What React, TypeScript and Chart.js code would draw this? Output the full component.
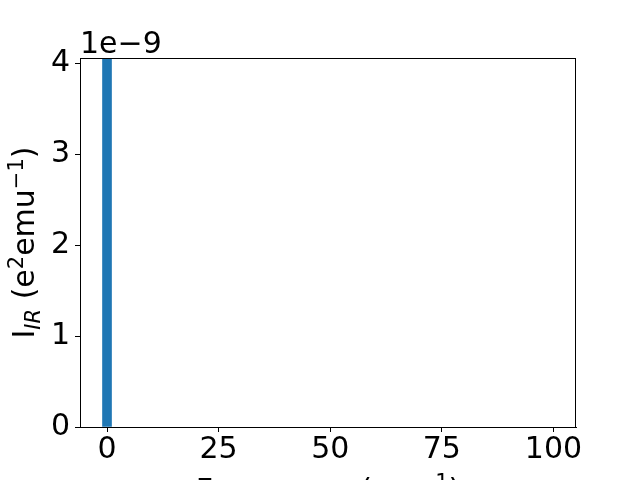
import React, { useEffect, useRef } from 'react';
import { Chart, registerables } from 'chart.js';

Chart.register(...registerables);

// ---- data ----
const frequencies = [0];
const intensities = [4.05]; // in units of 1e-9
const xTicks = [0, 25, 50, 75, 100];
const yTicks = [0, 1, 2, 3, 4];
const xRange = [-6.05, 105.05];
const yRange = [0, 4.055];
const offsetLabel = '1e\u22129';

type Seg = { t: string; k?: 'sup' | 'sub'; i?: boolean };
const yTitle: Seg[] = [
  { t: 'I' },
  { t: 'IR', k: 'sub', i: true },
  { t: ' (e' },
  { t: '2', k: 'sup' },
  { t: 'emu' },
  { t: '\u22121', k: 'sup' },
  { t: ')' },
];
const xTitle: Seg[] = [
  { t: 'Frequency (cm' },
  { t: '\u22121', k: 'sup' },
  { t: ')' },
];

const FAMILY = '"DejaVu Sans", sans-serif';
const FS = 30;

function drawRich(ctx: CanvasRenderingContext2D, segs: Seg[], size: number) {
  const fontFor = (s: Seg) => `${s.i ? 'italic ' : ''}${s.k ? Math.round(size * 0.7) : size}px ${FAMILY}`;
  const widths = segs.map((s) => {
    ctx.font = fontFor(s);
    return ctx.measureText(s.t).width;
  });
  const total = widths.reduce((a, b) => a + b, 0);
  let x = -total / 2;
  ctx.textAlign = 'left';
  ctx.textBaseline = 'alphabetic';
  segs.forEach((s, idx) => {
    ctx.font = fontFor(s);
    const dy = s.k === 'sup' ? -0.37 * size : s.k === 'sub' ? 0.2 * size : 0;
    ctx.fillText(s.t, x, dy);
    x += widths[idx];
  });
}

const decorPlugin = {
  id: 'decor',
  afterDraw(chart: any) {
    const ctx: CanvasRenderingContext2D = chart.ctx;
    const a = chart.chartArea;
    ctx.save();
    ctx.strokeStyle = '#000';
    ctx.lineWidth = 1;
    ctx.strokeRect(Math.round(a.left) + 0.5, Math.round(a.top) + 0.5, Math.round(a.right - a.left) - 1, Math.round(a.bottom - a.top));
    ctx.fillStyle = '#000';
    // offset text
    ctx.font = `${FS}px ${FAMILY}`;
    ctx.textAlign = 'left';
    ctx.textBaseline = 'alphabetic';
    ctx.fillText(offsetLabel, a.left, a.top - 5);
    // y title
    ctx.save();
    ctx.translate(34, (a.top + a.bottom) / 2);
    ctx.rotate(-Math.PI / 2);
    drawRich(ctx, yTitle, FS);
    ctx.restore();
    // x title
    ctx.save();
    ctx.translate((a.left + a.right) / 2, 500);
    drawRich(ctx, xTitle, FS);
    ctx.restore();
    ctx.restore();
  },
};

export default function App() {
  const ref = useRef<HTMLCanvasElement>(null);
  useEffect(() => {
    if (!ref.current) return;
    const chart = new Chart(ref.current, {
      type: 'bar',
      data: {
        datasets: [
          {
            data: frequencies.map((f, i) => ({ x: f, y: intensities[i] })),
            backgroundColor: '#1f77b4',
            borderWidth: 0,
            barThickness: 9,
          },
        ],
      },
      options: {
        animation: false,
        responsive: false,
        events: [],
        layout: { padding: { top: 58, right: 64, left: 0, bottom: 0 } },
        plugins: { legend: { display: false }, tooltip: { enabled: false } },
        scales: {
          x: {
            type: 'linear',
            offset: false,
            min: xRange[0],
            max: xRange[1],
            afterBuildTicks: (s: any) => {
              s.ticks = xTicks.map((v) => ({ value: v }));
            },
            afterFit: (s: any) => {
              s.height = 53;
            },
            grid: { display: true, drawOnChartArea: false, tickLength: 5, tickColor: '#000', offset: false },
            border: { display: true, color: '#000' },
            ticks: { color: '#000', font: { family: FAMILY, size: FS }, padding: 0, maxRotation: 0, autoSkip: false },
          },
          y: {
            type: 'linear',
            min: yRange[0],
            max: yRange[1],
            afterBuildTicks: (s: any) => {
              s.ticks = yTicks.map((v) => ({ value: v }));
            },
            afterFit: (s: any) => {
              s.width = 80;
            },
            grid: { display: true, drawOnChartArea: false, tickLength: 5, tickColor: '#000' },
            border: { display: true, color: '#000' },
            ticks: { color: '#000', font: { family: FAMILY, size: FS }, padding: 5, autoSkip: false },
          },
        },
      },
      plugins: [decorPlugin],
    });
    return () => chart.destroy();
  }, []);
  return (
    <div style={{ position: 'absolute', left: 0, top: 0, width: 640, height: 480 }}>
      <canvas ref={ref} width={640} height={480} style={{ display: 'block', width: 640, height: 480 }} />
    </div>
  );
}
